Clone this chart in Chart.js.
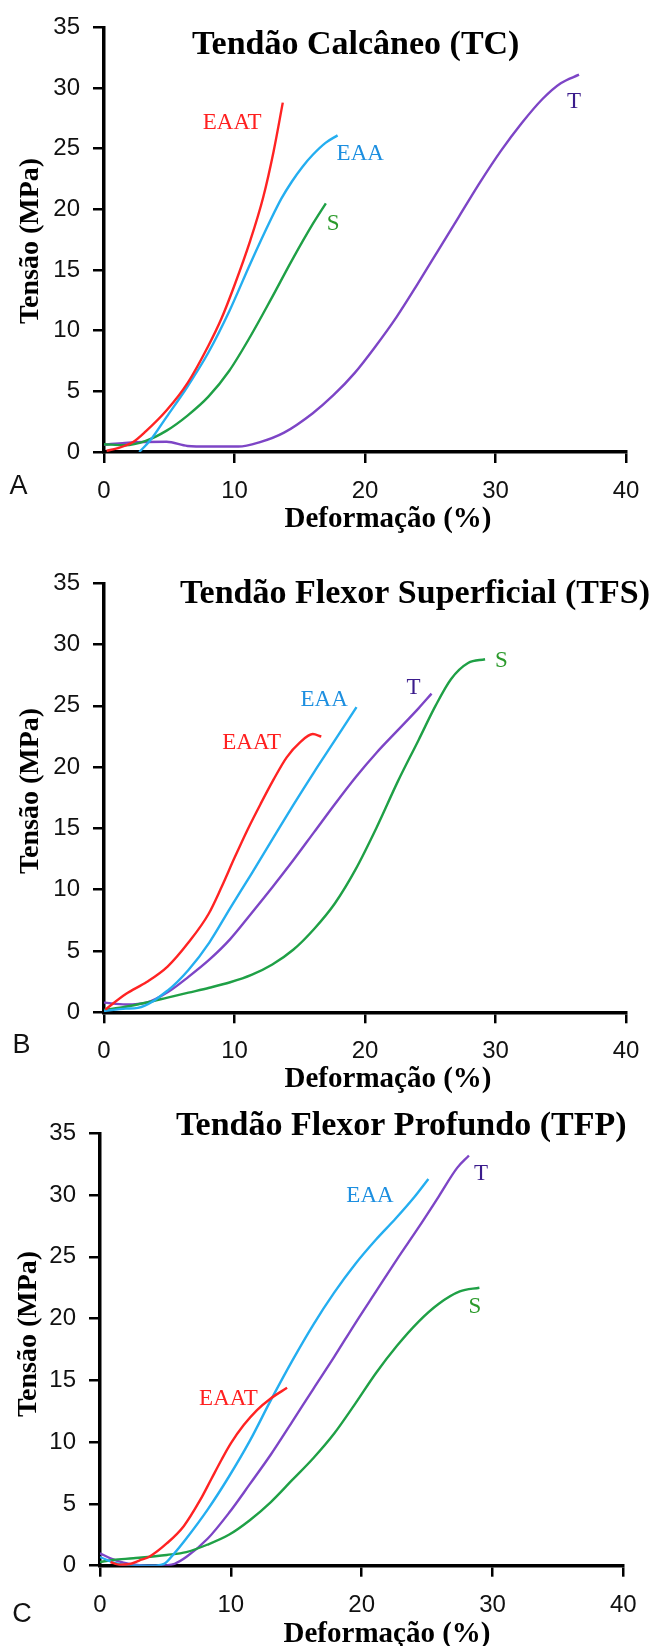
<!DOCTYPE html>
<html>
<head>
<meta charset="utf-8">
<script src="https://cdn.jsdelivr.net/npm/chart.js@4.4.1/dist/chart.umd.min.js"></script>
<style>
  html, body { margin: 0; padding: 0; background: #fff; }
  body { width: 655px; height: 1646px; position: relative; overflow: hidden; }
  canvas { position: absolute; left: 0; }
</style>
</head>
<body>
<canvas id="panelA" width="655" height="545" style="top:0px"></canvas>
<canvas id="panelB" width="655" height="555" style="top:545px"></canvas>
<canvas id="panelC" width="655" height="546" style="top:1100px"></canvas>
<script>
// Axis ticks shared by the three panels
const xTicks = [0, 10, 20, 30, 40];
const yTicks = [0, 5, 10, 15, 20, 25, 30, 35];

const seriesNames = ['EAAT', 'EAA', 'S', 'T'];
const panelTitles = ['Tendão Calcâneo (TC)', 'Tendão Flexor Superficial (TFS)', 'Tendão Flexor Profundo (TFP)'];
const panelLetters = ['A', 'B', 'C'];
const xAxisTitle = 'Deformação (%)';
const yAxisTitle = 'Tensão (MPa)';

// Tendão Calcâneo: [deformação %, tensão MPa]
const tcEAAT = [[0.2,0.1],[1.0,0.3],[2.2,0.8],[3.2,1.7],[4.8,3.44],[6.4,5.68],[8.0,8.76],[9.0,11.0],[9.95,13.6],[11.2,17.4],[12.2,21.0],[13.0,24.8],[13.7,28.8]];
const tcEAA  = [[2.7,0.0],[3.5,0.9],[4.8,2.9],[6.4,5.4],[8.0,8.2],[9.6,11.6],[11.2,15.5],[12.8,19.2],[13.6,20.9],[14.4,22.3],[15.2,23.5],[16.0,24.5],[17.0,25.5],[17.9,26.1]];
const tcS    = [[0.0,0.64],[1.6,0.56],[3.2,0.92],[4.8,1.76],[6.4,3.0],[8.0,4.56],[9.6,6.7],[11.2,9.5],[12.8,12.6],[14.4,15.8],[16.0,18.8],[17.0,20.5]];
const tcT    = [[0.0,0.6],[1.6,0.75],[4.8,0.84],[6.4,0.5],[8.0,0.45],[10.3,0.45],[11.9,0.8],[13.8,1.6],[16.0,3.2],[17.6,4.7],[19.2,6.5],[20.8,8.7],[22.4,11.1],[24.0,13.8],[25.6,16.6],[27.2,19.4],[28.8,22.2],[30.4,24.8],[32.0,27.1],[33.6,29.1],[35.0,30.4],[36.4,31.1]];

// Tendão Flexor Superficial
const tfsEAAT = [[0.1,0.22],[1.67,1.49],[3.27,2.47],[4.87,3.73],[6.47,5.69],[8.0,8.0],[9.0,10.2],[10.0,12.6],[11.0,14.9],[12.0,17.0],[13.0,19.0],[14.0,20.8],[15.0,22.0],[16.0,22.7],[16.65,22.5]];
const tfsEAA  = [[0.0,0.1],[1.67,0.3],[2.6,0.36],[4.87,1.77],[6.47,3.45],[8.07,5.69],[9.67,8.5],[11.3,11.3],[12.9,14.1],[14.5,16.9],[16.1,19.6],[17.7,22.2],[19.35,24.9]];
const tfsS    = [[0.0,0.2],[1.67,0.45],[3.27,0.8],[4.87,1.2],[6.47,1.6],[8.07,2.0],[9.67,2.45],[11.3,3.05],[12.9,3.9],[14.5,5.1],[16.1,6.8],[17.7,8.9],[19.3,11.7],[20.9,15.1],[22.5,18.8],[24.1,22.2],[25.4,25.0],[26.6,27.2],[27.9,28.5],[29.2,28.8]];
const tfsT    = [[0.0,0.79],[1.67,0.64],[3.27,0.79],[4.87,1.63],[6.47,2.89],[8.07,4.29],[9.67,5.97],[11.3,8.08],[12.9,10.2],[14.5,12.4],[16.1,14.7],[17.7,17.0],[19.3,19.2],[20.9,21.2],[22.5,23.0],[24.1,24.8],[25.1,26.0]];

// Tendão Flexor Profundo
const tfpEAAT = [[0.8,0.3],[1.5,0.08],[2.2,0.12],[3.0,0.42],[3.8,0.75],[5.1,1.8],[6.4,3.2],[7.65,5.3],[8.5,7.0],[9.3,8.6],[10.0,9.9],[11.0,11.4],[12.0,12.6],[13.0,13.5],[14.3,14.4]];
const tfpEAA  = [[0.0,0.7],[1.2,0.2],[2.5,0.0],[4.0,0.0],[4.9,0.15],[5.6,0.9],[6.6,2.2],[8.24,4.56],[9.85,7.2],[11.45,10.1],[13.06,13.4],[14.7,16.6],[16.3,19.5],[17.9,22.1],[19.5,24.4],[21.1,26.4],[22.6,28.1],[24.0,29.8],[25.1,31.3]];
const tfpS    = [[0.0,0.3],[1.0,0.46],[2.55,0.6],[5.1,0.87],[6.6,1.1],[8.2,1.7],[9.85,2.5],[11.45,3.68],[13.06,5.15],[14.66,6.9],[16.3,8.7],[17.9,10.7],[19.5,13.1],[21.1,15.6],[22.7,17.8],[24.3,19.7],[25.9,21.2],[27.5,22.2],[29.0,22.5]];
const tfpT    = [[0.0,1.0],[0.8,0.6],[1.8,0.25],[3.0,0.05],[4.5,0.0],[5.7,0.15],[6.64,0.74],[8.24,2.2],[9.85,4.26],[11.45,6.6],[13.06,9.0],[14.66,11.6],[16.3,14.3],[17.9,16.9],[19.5,19.6],[21.1,22.2],[22.7,24.8],[24.3,27.3],[25.9,29.9],[27.3,32.2],[28.2,33.2]];

const lineColors  = ['#ff2323', '#24aef0', '#1fa046', '#7d45c6'];
const labelColors = ['#ff2020', '#1d8fe0', '#2b9a2b', '#3b1c8c'];

const serifFont = '"Liberation Serif", "Times New Roman", serif';
const sansFont  = '"Liberation Sans", Arial, Helvetica, sans-serif';

// Layout of each panel inside its canvas
const panels = [
  {
    canvas: 'panelA', series: [tcEAAT, tcEAA, tcS, tcT],
    pad: { left: 44, right: 29, top: 21.5, bottom: 23 },
    title: { x: 192, y: 54, w: 340 },
    xTitle: { x: 388, dy: 75 }, yTitle: { x: 31, y: 241 },
    letter: { x: 18.5, y: 487 },
    labelOffsets: [[-80, 26], [-1, 25], [1, 27], [-12, 33]]
  },
  {
    canvas: 'panelB', series: [tfsEAAT, tfsEAA, tfsS, tfsT],
    pad: { left: 44, right: 29, top: 38.3, bottom: 17.7 },
    title: { x: 180, y: 58, w: 473 },
    xTitle: { x: 388, dy: 75 }, yTitle: { x: 31, y: 246 },
    letter: { x: 21.5, y: 501 },
    labelOffsets: [[-99, 12], [-56, -1], [10, 8], [-25, 0]]
  },
  {
    canvas: 'panelC', series: [tfpEAAT, tfpEAA, tfpS, tfpT],
    pad: { left: 40, right: 31.7, top: 33.3, bottom: 10.3 },
    title: { x: 176, y: 35, w: 456 },
    xTitle: { x: 387, dy: 76 }, yTitle: { x: 29, y: 234 },
    letter: { x: 22, y: 515 },
    labelOffsets: [[-88, 17], [-82, 23], [-11, 25], [5, 24]]
  }
];

// Draws the panel title, axis titles, panel letter and the curve names
function panelTextPlugin(p, idx) {
  return {
    id: 'panelText' + idx,
    afterDraw(chart) {
      const ctx = chart.ctx;
      const xs = chart.scales.x, ys = chart.scales.y;
      const area = chart.chartArea;
      ctx.save();
      ctx.fillStyle = '#000';
      ctx.textAlign = 'left';
      ctx.textBaseline = 'alphabetic';
      ctx.font = 'bold 34px ' + serifFont;
      ctx.fillText(panelTitles[idx], p.title.x, p.title.y, p.title.w);

      ctx.textAlign = 'center';
      ctx.font = 'bold 29px ' + serifFont;
      ctx.fillText(xAxisTitle, p.xTitle.x, area.bottom + p.xTitle.dy);

      ctx.save();
      ctx.translate(p.yTitle.x, p.yTitle.y);
      ctx.rotate(-Math.PI / 2);
      ctx.textBaseline = 'middle';
      ctx.font = 'bold 28px ' + serifFont;
      ctx.fillText(yAxisTitle, 0, 0);
      ctx.restore();

      ctx.textBaseline = 'middle';
      ctx.font = '27px ' + sansFont;
      ctx.fillStyle = '#111';
      ctx.fillText(panelLetters[idx], p.letter.x, p.letter.y);

      ctx.textAlign = 'left';
      ctx.textBaseline = 'alphabetic';
      ctx.font = '23px ' + serifFont;
      p.series.forEach((s, i) => {
        const end = s[s.length - 1];
        const px = xs.getPixelForValue(end[0]) + p.labelOffsets[i][0];
        const py = ys.getPixelForValue(end[1]) + p.labelOffsets[i][1];
        ctx.fillStyle = labelColors[i];
        ctx.fillText(seriesNames[i], px, py);
      });
      ctx.restore();
    }
  };
}

function buildPanel(p, idx) {
  const datasets = p.series.map((s, i) => ({
    label: seriesNames[i],
    data: s.map(pt => ({ x: pt[0], y: pt[1] })),
    borderColor: lineColors[i],
    backgroundColor: lineColors[i],
    borderWidth: 2.4,
    pointRadius: 0,
    cubicInterpolationMode: 'monotone',
    fill: false
  }));

  new Chart(document.getElementById(p.canvas), {
    type: 'line',
    data: { datasets },
    plugins: [panelTextPlugin(p, idx)],
    options: {
      responsive: false,
      animation: false,
      devicePixelRatio: 1,
      layout: { padding: p.pad },
      plugins: { legend: { display: false }, tooltip: { enabled: false }, title: { display: false } },
      scales: {
        x: {
          type: 'linear',
          min: xTicks[0], max: xTicks[xTicks.length - 1],
          afterBuildTicks: scale => { scale.ticks = xTicks.map(v => ({ value: v })); },
          afterFit: scale => { scale.height = 70; },
          ticks: { color: '#111', padding: 14, maxRotation: 0, font: { family: sansFont, size: 24 } },
          grid: { drawOnChartArea: false, drawTicks: true, tickLength: 11, color: '#000', lineWidth: 2.5 },
          border: { display: true, color: '#000', width: 3.5 }
        },
        y: {
          type: 'linear',
          min: yTicks[0], max: yTicks[yTicks.length - 1],
          afterBuildTicks: scale => { scale.ticks = yTicks.map(v => ({ value: v })); },
          afterFit: scale => { scale.width = 60; },
          ticks: { color: '#111', padding: 13, font: { family: sansFont, size: 24 } },
          grid: { drawOnChartArea: false, drawTicks: true, tickLength: 11, color: '#000', lineWidth: 2.5 },
          border: { display: true, color: '#000', width: 3.5 }
        }
      }
    }
  });
}

panels.forEach(buildPanel);
</script>
</body>
</html>
